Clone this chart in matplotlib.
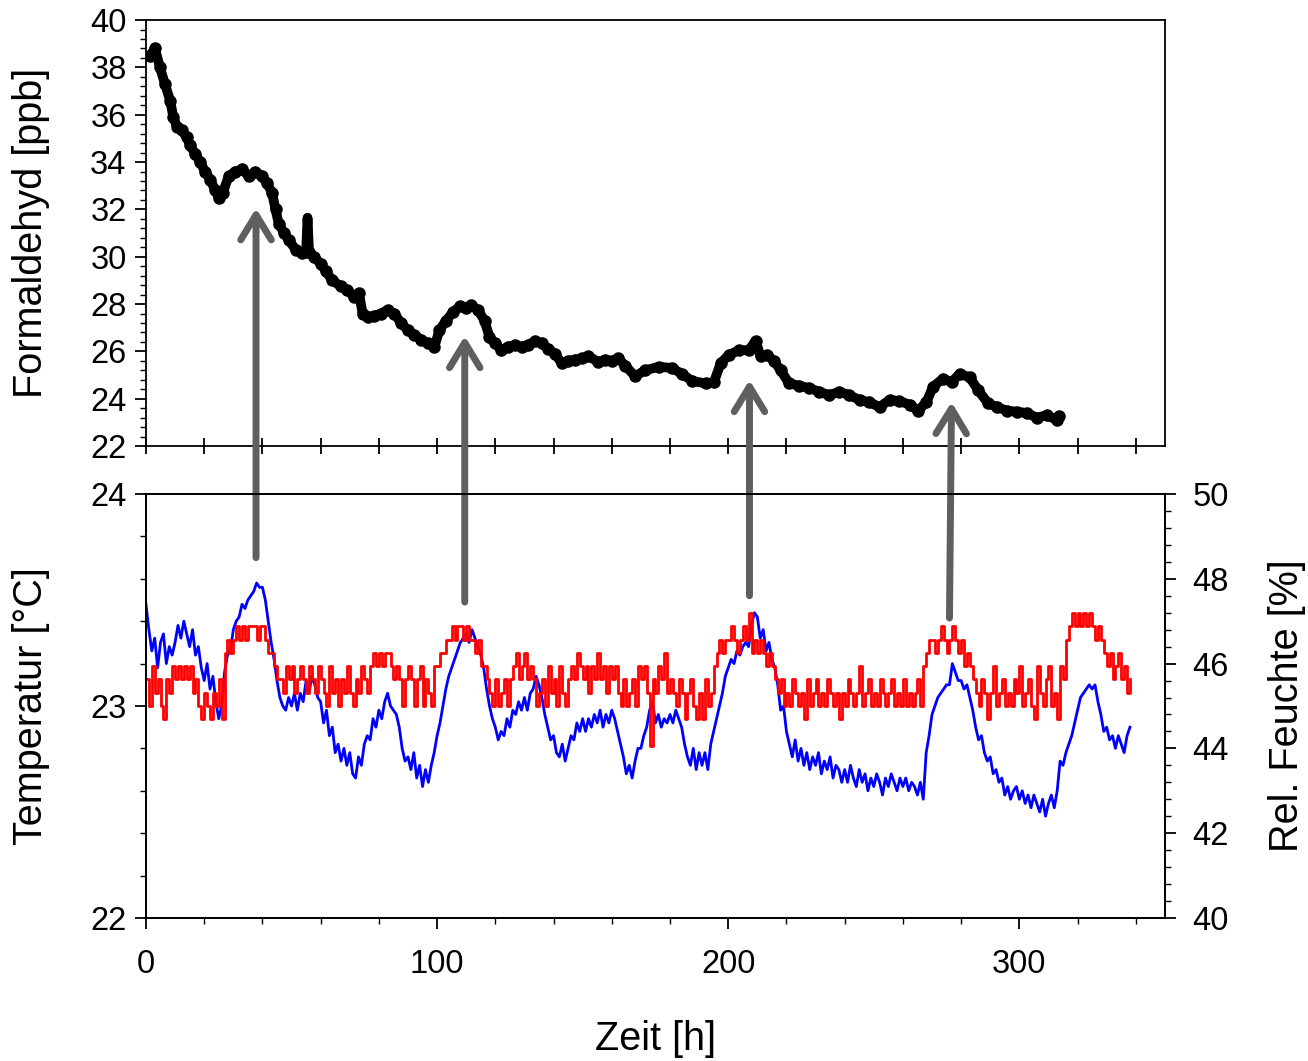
import numpy as np
import matplotlib
matplotlib.use("Agg")
import matplotlib.pyplot as plt
from matplotlib.ticker import MultipleLocator
from matplotlib.patches import ArrowStyle

plt.rcParams['font.family'] = ['Liberation Sans', 'DejaVu Sans']

# formaldehyde (time in h, value in ppb)
hcho_h = [1.4, 3.1, 4.8, 6.5, 8.3, 9.4, 10.6, 12.3, 14.0, 15.2, 16.9, 18.6, 20.3, 22.1,
          23.8, 25.0, 26.4, 28.4, 30.7, 33.0, 35.3, 37.6, 39.9, 41.6, 43.3, 44.5, 45.6,
          47.4, 49.1, 51.4, 53.7, 55.0, 55.5, 56.0, 57.7, 60.0, 61.7, 64.0, 66.9, 69.2,
          71.5, 73.2, 74.4, 76.1, 78.4, 80.7, 83.0, 85.3, 87.6, 89.9, 92.2, 94.5, 96.8,
          99.1, 100.8, 103.1, 105.4, 107.7, 110.0, 111.7, 114.0, 116.3, 118.0, 119.8,
          122.1, 124.4, 126.7, 129.0, 131.3, 133.6, 135.9, 138.2, 140.5, 142.8, 145.1,
          147.4, 149.7, 152.0, 155.4, 157.7, 160.0, 162.3, 164.6, 168.0, 171.5, 176.1,
          180.7, 184.1, 187.6, 192.2, 195.1, 197.4, 200.2, 203.7, 207.1, 209.4, 211.1,
          213.4, 215.7, 218.0, 220.9, 224.4, 227.8, 231.3, 234.7, 238.2, 241.6, 245.1,
          248.5, 252.0, 255.4, 258.8, 262.3, 265.2, 268.1, 270.3, 273.8, 276.7, 279.5,
          283.0, 285.9, 289.3, 292.2, 295.6, 299.1, 302.5, 306.0, 309.4, 312.9, 313.5]
hcho_ppb = [38.5, 38.8, 38.0, 37.3, 36.6, 35.9, 35.5, 35.35, 35.05, 34.7, 34.35, 34.0, 33.6, 33.25,
            32.8, 32.5, 32.7, 33.4, 33.6, 33.7, 33.4, 33.6, 33.4, 33.1, 32.7, 32.0, 31.4,
            31.0, 30.7, 30.3, 30.15, 30.2, 31.65, 30.2, 30.0, 29.7, 29.4, 29.0, 28.75, 28.6,
            28.3, 28.45, 27.6, 27.45, 27.5, 27.6, 27.75, 27.6, 27.2, 26.9, 26.7, 26.5, 26.35,
            26.2, 26.9, 27.3, 27.65, 27.9, 27.85, 27.95, 27.75, 27.3, 26.6, 26.35,
            26.05, 26.2, 26.25, 26.2, 26.25, 26.45, 26.35, 26.1, 25.9, 25.5, 25.6,
            25.65, 25.7, 25.8, 25.55, 25.65, 25.6, 25.7, 25.4, 24.95, 25.2, 25.35,
            25.3, 25.05, 24.75, 24.65, 24.7, 25.5, 25.85, 26.05, 26.05, 26.45, 25.8,
            25.85, 25.6, 25.2, 24.65, 24.55, 24.45, 24.3, 24.15, 24.3, 24.15, 23.95,
            23.85, 23.65, 23.95, 23.9, 23.75, 23.5, 23.85, 24.5, 24.85, 24.7, 25.05,
            24.9, 24.35, 23.8, 23.65, 23.5, 23.45, 23.4, 23.2, 23.3, 23.1, 23.25]
spike_idx = 32

# temperature, in steps of 1/16 degC above 23 degC, one value per hour from 0 h
temp_steps = [2, 0, 3, 1, 2, 0, -1, 2, 1, 3,
              2, 3, 2, 3, 2, 3, 1, 2, 0, -1,
              1, 0, -1, 1, 0, 2, -1, 4, 5, 4,
              5, 6, 5, 6, 5, 6, 6, 6, 5, 6,
              6, 5, 4, 4, 3, 2, 2, 1, 3, 2,
              3, 1, 2, 3, 2, 1, 3, 2, 1, 3,
              2, 1, 0, 3, 1, 2, 0, 2, 1, 3,
              1, 0, 2, 1, 3, 2, 1, 3, 4, 3,
              4, 3, 4, 4, 3, 2, 3, 2, 0, 2,
              3, 2, 0, 2, 3, 0, 2, 1, 0, 3,
              3, 4, 4, 5, 5, 6, 5, 6, 6, 5,
              6, 5, 5, 4, 5, 3, 3, 2, 1, 0,
              2, 0, 1, 2, 0, 2, 3, 4, 2, 3,
              4, 2, 3, 2, 0, 1, 2, 0, 3, 1,
              2, 0, 3, 1, 0, 2, 3, 2, 4, 3,
              2, 3, 1, 3, 2, 4, 2, 3, 1, 3,
              2, 3, 1, 0, 2, 0, 1, 2, 0, 3,
              2, 3, 1, -3, 2, 1, 3, 2, 4, 1,
              2, 1, 0, 2, 1, -1, 1, 2, 0, -1,
              1, -1, 2, 0, 1, 3, 4, 5, 4, 5,
              5, 6, 5, 4, 5, 6, 5, 7, 4, 5,
              4, 5, 4, 3, 4, 3, 2, 1, 2, 0,
              1, 0, 2, 1, 0, 1, -1, 2, 0, 1,
              2, 0, 1, 0, 2, 1, 0, 1, -1, 1,
              0, 2, 1, 0, 1, 3, 0, 1, 2, 0,
              1, 0, 2, 1, 0, 1, 2, 0, 1, 0,
              2, 0, 1, 0, 1, 2, 0, 3, 4, 5,
              5, 4, 5, 6, 5, 4, 5, 6, 5, 4,
              5, 3, 4, 3, 2, 1, 0, 2, 1, -1,
              1, 3, 0, 1, 2, 0, 1, 0, 2, 1,
              3, 0, 1, 2, 0, -1, 3, 1, 0, 2,
              3, 0, 1, -1, 3, 2, 5, 6, 7, 6,
              7, 6, 7, 6, 7, 6, 5, 6, 5, 4,
              3, 4, 2, 3, 4, 2, 3, 1, 2]

# relative humidity in %, one value per hour from 0 h
rh = [47.4, 46.8, 46.3, 46.6, 45.9, 46.5, 46.7, 46.0, 46.4, 46.2,
      46.5, 46.9, 46.6, 47.0, 46.7, 46.4, 46.8, 46.2, 46.4, 45.9,
      45.6, 46.0, 45.4, 45.7, 45.1, 44.7, 45.0, 45.8, 46.2, 46.3,
      46.8, 47.0, 47.1, 47.4, 47.3, 47.5, 47.6, 47.7, 47.9, 47.8,
      47.8, 47.5, 47.0, 46.5, 46.1, 45.6, 45.2, 45.0, 44.9, 45.2,
      45.0, 45.3, 44.9, 45.3, 45.1, 45.6, 45.3, 45.7, 45.5, 45.2,
      45.1, 44.6, 44.9, 44.3, 44.5, 43.9, 44.1, 43.7, 44.0, 43.6,
      43.9, 43.4, 43.3, 43.8, 43.6, 44.1, 44.3, 44.2, 44.7, 44.5,
      44.9, 44.7, 45.1, 45.3, 45.0, 44.9, 44.8, 44.5, 44.0, 43.7,
      43.8, 43.5, 43.9, 43.3, 43.6, 43.1, 43.5, 43.2, 43.6, 43.9,
      44.3, 44.6, 45.0, 45.4, 45.7, 45.9, 46.1, 46.3, 46.5, 46.6,
      46.7, 46.5, 46.8, 46.6, 46.4, 46.2, 45.9, 45.4, 45.0, 44.7,
      44.5, 44.2, 44.4, 44.3, 44.7, 44.5, 44.9, 44.8, 45.1, 44.9,
      45.2, 44.9, 45.3, 45.4, 45.7, 45.5, 45.2, 44.8, 44.5, 44.2,
      44.3, 43.9, 43.8, 44.1, 43.7, 44.0, 44.3, 44.2, 44.6, 44.4,
      44.7, 44.4, 44.7, 44.5, 44.8, 44.6, 44.9, 44.5, 44.8, 44.6,
      44.9, 44.7, 44.4, 44.1, 43.8, 43.4, 43.6, 43.3, 43.7, 44.0,
      44.0, 44.3, 44.5, 44.9, 45.1, 44.6, 44.8, 44.5, 44.7, 44.6,
      44.8, 44.6, 44.9, 44.7, 44.5, 44.1, 43.8, 43.6, 44.0, 43.5,
      43.9, 43.6, 43.9, 43.5, 44.1, 44.4, 44.7, 45.0, 45.3, 45.7,
      45.9, 46.1, 46.0, 46.3, 46.2, 46.4, 46.5, 46.4, 46.9, 47.2,
      47.1, 46.6, 46.8, 46.3, 46.5, 46.1, 45.9, 45.5, 44.9, 45.0,
      44.4, 44.1, 43.8, 44.2, 43.7, 44.0, 43.6, 43.9, 43.5, 43.8,
      43.6, 43.9, 43.4, 43.7, 43.5, 43.8, 43.3, 43.6, 43.5, 43.2,
      43.5, 43.2, 43.6, 43.3, 43.1, 43.5, 43.2, 43.4, 43.0, 43.3,
      43.1, 43.4, 43.2, 42.9, 43.3, 43.1, 43.4, 43.2, 43.0, 43.3,
      43.1, 43.3, 43.0, 43.2, 43.1, 42.9, 43.2, 42.8, 43.9, 44.3,
      44.8, 45.0, 45.2, 45.3, 45.4, 45.5, 45.5, 46.0, 45.8, 45.6,
      45.6, 45.4, 45.5, 45.2, 44.9, 44.5, 44.2, 44.3, 43.9, 43.7,
      43.8, 43.4, 43.5, 43.2, 43.3, 42.9, 43.1, 42.8, 43.0, 43.1,
      42.8, 43.0, 42.7, 42.9, 42.6, 42.9, 42.7, 42.5, 42.8, 42.4,
      42.7, 42.9, 42.6, 43.0, 43.7, 43.6, 43.9, 44.1, 44.3, 44.6,
      44.9, 45.2, 45.3, 45.4, 45.5, 45.4, 45.5, 45.1, 44.8, 44.4,
      44.5, 44.2, 44.3, 44.0, 44.3, 44.1, 43.9, 44.3, 44.5]

# arrows: time (h), start in the temperature panel, tip in the formaldehyde panel
arrow_h_tail = [37.8, 109.5, 207.3, 276.0]
arrow_h_tip = [37.8, 109.5, 207.3, 276.7]
arrow_tail_T = [23.70, 23.49, 23.52, 23.415]
arrow_tip_ppb = [32.05, 26.65, 24.79, 23.86]

temp_h = np.arange(len(temp_steps))
temp = 23 + np.array(temp_steps) / 16.0
rh_h = np.arange(len(rh))

fig = plt.figure(figsize=(13.08, 10.61), dpi=100)
ax1 = fig.add_axes([0.1116, 0.5796, 0.779, 0.4015])
ax2 = fig.add_axes([0.1116, 0.1348, 0.779, 0.3996])
ax3 = ax2.twinx()

tick_fs = 23.5
label_fs = 28.5

# top panel
marks = [i for i in range(len(hcho_h)) if i != spike_idx]
ax1.plot(hcho_h, hcho_ppb, color='black', lw=3, solid_capstyle='round', zorder=3)
ax1.plot(hcho_h, hcho_ppb, color='black', lw=7, solid_capstyle='round',
         solid_joinstyle='round', marker='o', ms=8, markevery=marks, zorder=3)
ax1.set_xlim(0, 350)
ax1.set_ylim(22, 40)
ax1.yaxis.set_major_locator(MultipleLocator(2))
ax1.yaxis.set_minor_locator(MultipleLocator(0.4))
ax1.xaxis.set_major_locator(MultipleLocator(20))
ax1.tick_params(axis='x', which='major', direction='inout', length=12, width=1.3,
                labelbottom=False)
ax1.tick_params(axis='y', which='major', direction='out', length=8, width=1.3,
                labelsize=tick_fs, pad=6)
ax1.tick_params(axis='y', which='minor', direction='out', length=4, width=1.0)
ax1.set_ylabel('Formaldehyd [ppb]', fontsize=label_fs)
ax1.yaxis.set_label_coords(-0.094, 0.5)

# bottom panel
ax2.plot(temp_h, temp, color='#ff0000', lw=2, drawstyle='steps-post', zorder=2)
ax3.plot(rh_h, rh, color='#0000ff', lw=2, zorder=3)
ax2.set_zorder(ax3.get_zorder() + 1)
ax2.patch.set_visible(False)

ax2.set_xlim(0, 350)
ax2.set_ylim(22, 24)
ax2.set_yticks([22, 23, 24])
ax2.yaxis.set_minor_locator(MultipleLocator(0.2))
ax2.set_xticks([0, 100, 200, 300])
ax2.xaxis.set_minor_locator(MultipleLocator(20))
ax2.tick_params(axis='both', which='major', direction='out', length=8, width=1.3,
                labelsize=tick_fs, pad=6)
ax2.tick_params(axis='x', which='major', pad=14)
ax2.tick_params(axis='both', which='minor', direction='out', length=4, width=1.0)
ax2.set_ylabel('Temperatur [°C]', fontsize=label_fs)
ax2.yaxis.set_label_coords(-0.094, 0.5)
ax2.set_xlabel('Zeit [h]', fontsize=label_fs)
ax2.xaxis.set_label_coords(0.5, -0.24)

ax3.set_ylim(40, 50)
ax3.yaxis.set_major_locator(MultipleLocator(2))
ax3.yaxis.set_minor_locator(MultipleLocator(0.4))
ax3.tick_params(axis='y', which='major', direction='out', length=8, width=1.3,
                labelsize=tick_fs, pad=12)
ax3.tick_params(axis='y', which='minor', direction='out', length=4, width=1.0)
ax3.set_ylabel('Rel. Feuchte [%]', fontsize=label_fs)
ax3.yaxis.set_label_coords(1.101, 0.5)

for ax in (ax1, ax2, ax3):
    for sp in ax.spines.values():
        sp.set_linewidth(1.3)

# gray arrows from the climate peaks up to the formaldehyde bumps
style = ArrowStyle('->', head_length=0.9, head_width=0.55)
for ht, hp, t0, c1 in zip(arrow_h_tail, arrow_h_tip, arrow_tail_T, arrow_tip_ppb):
    ax1.annotate('', xy=(hp, c1), xycoords=ax1.transData,
                 xytext=(ht, t0), textcoords=ax2.transData,
                 arrowprops=dict(arrowstyle=style, color='#5f5f5f', lw=5,
                                 mutation_scale=20, shrinkA=0, shrinkB=0),
                 annotation_clip=False, zorder=10)

fig.savefig('out.png', dpi=100)
